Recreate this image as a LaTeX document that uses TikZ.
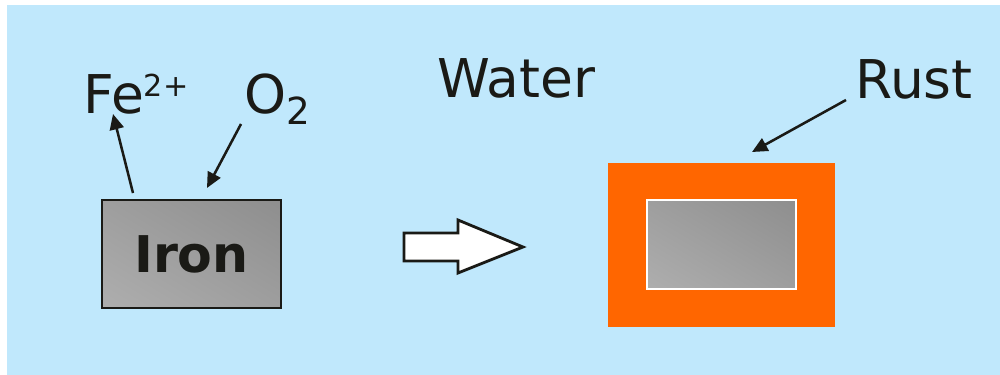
\documentclass[tikz,border=0pt]{standalone}
\usepackage{fontspec}
\setmainfont{DejaVu Sans}
\usetikzlibrary{arrows.meta, shadings}
\definecolor{waterblue}{HTML}{C0E8FC}
\definecolor{rustorange}{HTML}{FF6600}
\definecolor{inkblack}{HTML}{1A1A16}
\definecolor{ironlight}{HTML}{AEAEAE}
\definecolor{ironmid}{HTML}{9E9E9E}
\definecolor{irondark}{HTML}{8E8E8E}
\newcommand{\supfe}[1]{\raisebox{11.5pt}{\fontsize{21.5}{25}\selectfont #1}}
\newcommand{\subox}[1]{\raisebox{-8.5pt}{\fontsize{26.5}{30}\selectfont #1}}
\tikzset{
    ironfill/.style={lower left=ironlight, upper right=irondark, upper left=ironmid, lower right=ironmid},
    ironbox/.style={rectangle, draw=inkblack, line width=1.8pt, ironfill, minimum width=4.475cm, minimum height=2.7cm, inner sep=0pt, text=inkblack, font=\bfseries\fontsize{36}{40}\selectfont},
    rustbox/.style={rectangle, fill=rustorange, minimum width=5.675cm, minimum height=4.1cm, inner sep=0pt},
    corebox/.style={rectangle, draw=white, line width=1.5pt, ironfill, minimum width=3.725cm, minimum height=2.225cm, inner sep=0pt},
    lbl/.style={anchor=base west, inner sep=0pt, text=inkblack, font=\fontsize{38}{44}\selectfont},
    arrk/.style={-{Triangle[length=11pt, width=10pt]}, line width=1.8pt, inkblack},
    bigarr/.style={draw=inkblack, fill=white, line width=2pt, line join=miter}
}
\begin{document}
\begin{tikzpicture}[x=0.025cm, y=-0.025cm]
    \useasboundingbox (0,0) rectangle (1000,375);
    \fill[waterblue] (7,5) rectangle (1000,375);

    % iron before
    \node[ironbox] (iron) at (191.5,254) {Iron};
    \node[lbl] (fe) at (83,113) {Fe\supfe{2+}};
    \node[lbl] (ox) at (244,113) {O\subox{2}};
    \coordinate (fetail) at (133,193);
    \coordinate (fehead) at (113,114);
    \coordinate (oxtail) at (241,124);
    \coordinate (oxhead) at (207,188);
    \draw[arrk] (fetail) -- (fehead);
    \draw[arrk] (oxtail) -- (oxhead);

    % reaction arrow
    \draw[bigarr] (404,233) -- (458,233) -- (458,220) -- (523,247) -- (458,273) -- (458,261) -- (404,261) -- cycle;

    \node[lbl] (water) at (437,97) {Water};

    % iron after
    \node[rustbox] (rust) at (721.5,245) {};
    \node[corebox] (core) at (721.5,244.5) {};
    \node[lbl] (rustlbl) at (855,98) {Rust};
    \coordinate (rusttail) at (846,100);
    \coordinate (rusthead) at (752,152);
    \draw[arrk] (rusttail) -- (rusthead);
\end{tikzpicture}
\end{document}
